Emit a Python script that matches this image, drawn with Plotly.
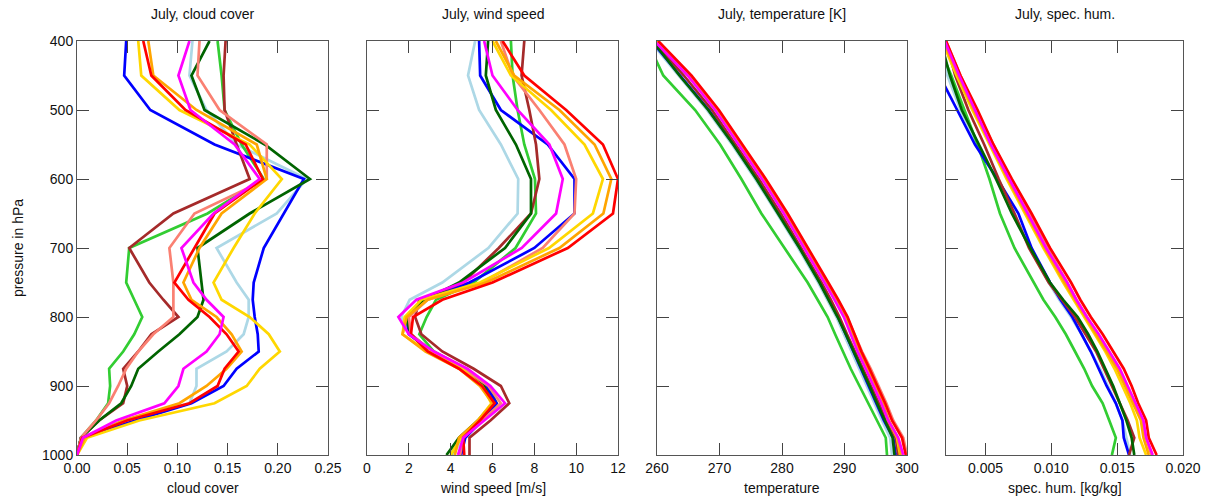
import plotly.graph_objects as go

# pressure levels (hPa)
levels = [400, 450, 500, 550, 600, 650, 700, 750, 775, 800, 825, 850, 875, 900, 925, 950, 975, 1000]

series_names = ["lightblue", "limegreen", "blue", "brown", "darkgreen", "salmon", "gold", "orange", "red", "magenta"]
series_colors = {"lightblue": "#add8e6", "salmon": "#fa8072", "brown": "#a52a2a", "limegreen": "#32cd32",
                 "darkgreen": "#006400", "blue": "#0000ff", "gold": "#ffd700", "orange": "#ffa500",
                 "red": "#ff0000", "magenta": "#ff00ff"}

# cloud cover
cloud = {
    "blue":      [0.049, 0.047, 0.073, 0.137, 0.226, 0.206, 0.186, 0.176, 0.175, 0.177, 0.180, 0.181, 0.159, 0.146, 0.114, 0.058, 0.004, 0.0],
    "red":       [0.066, 0.074, 0.108, 0.168, 0.185, 0.137, 0.117, 0.097, 0.111, 0.132, 0.149, 0.161, 0.147, 0.140, 0.112, 0.050, 0.005, 0.0],
    "orange":    [0.071, 0.076, 0.119, 0.179, 0.189, 0.144, 0.122, 0.106, 0.114, 0.139, 0.154, 0.164, 0.149, 0.129, 0.102, 0.046, 0.008, 0.0],
    "gold":      [0.061, 0.064, 0.102, 0.172, 0.204, 0.177, 0.156, 0.136, 0.144, 0.172, 0.191, 0.202, 0.182, 0.169, 0.137, 0.062, 0.010, 0.0],
    "limegreen": [0.140, 0.144, 0.147, 0.164, 0.186, 0.130, 0.052, 0.049, 0.057, 0.065, 0.057, 0.046, 0.032, 0.033, 0.031, 0.019, 0.004, 0.0],
    "darkgreen": [0.132, 0.114, 0.127, 0.187, 0.232, 0.172, 0.120, 0.124, 0.126, 0.120, 0.102, 0.081, 0.061, 0.054, 0.044, 0.022, 0.004, 0.0],
    "brown":     [0.148, 0.146, 0.147, 0.159, 0.172, 0.096, 0.052, 0.072, 0.086, 0.101, 0.074, 0.061, 0.046, 0.050, 0.046, 0.022, 0.004, 0.0],
    "magenta":   [0.112, 0.101, 0.113, 0.157, 0.182, 0.136, 0.104, 0.116, 0.129, 0.146, 0.142, 0.129, 0.106, 0.101, 0.087, 0.039, 0.006, 0.0],
    "salmon":    [0.122, 0.120, 0.142, 0.189, 0.189, 0.117, 0.092, 0.096, 0.096, 0.096, 0.076, 0.061, 0.049, 0.041, 0.032, 0.019, 0.004, 0.0],
    "lightblue": [0.115, 0.112, 0.129, 0.159, 0.229, 0.199, 0.139, 0.159, 0.171, 0.171, 0.166, 0.149, 0.119, 0.119, 0.112, 0.046, 0.005, 0.0],
}

# wind speed [m/s]
wind = {
    "lightblue": [5.17, 4.83, 5.36, 6.40, 7.23, 7.20, 5.80, 3.60, 2.04, 1.64, 2.10, 3.00, 4.50, 5.60, 6.10, 5.50, 4.60, 4.10],
    "blue":      [5.36, 5.41, 6.40, 8.64, 9.92, 9.92, 8.00, 4.90, 2.75, 1.90, 2.00, 3.10, 4.60, 5.70, 6.20, 5.50, 4.70, 4.50],
    "darkgreen": [5.79, 5.68, 6.16, 7.12, 7.84, 7.84, 6.60, 4.40, 2.75, 1.85, 2.10, 3.10, 4.60, 5.60, 6.00, 5.30, 4.40, 3.80],
    "limegreen": [6.88, 6.96, 7.20, 7.52, 8.03, 8.08, 7.10, 5.10, 3.30, 2.85, 2.50, 3.20, 4.70, 5.80, 6.20, 5.40, 4.50, 4.00],
    "brown":     [7.52, 7.39, 7.76, 8.08, 8.24, 7.84, 6.30, 4.60, 2.50, 2.30, 2.60, 3.60, 5.10, 6.40, 6.80, 5.90, 4.90, 4.90],
    "magenta":   [5.60, 6.00, 7.20, 8.72, 9.36, 9.04, 7.40, 4.60, 2.36, 1.50, 2.00, 3.20, 4.80, 5.90, 6.60, 5.60, 4.60, 4.35],
    "salmon":    [6.40, 6.96, 8.24, 9.44, 10.00, 9.92, 8.40, 5.50, 2.90, 2.00, 2.10, 3.10, 4.60, 5.80, 6.40, 5.50, 4.60, 4.45],
    "gold":      [6.00, 6.88, 8.80, 10.40, 11.28, 10.80, 8.70, 5.40, 2.60, 1.80, 1.70, 2.90, 4.50, 5.50, 5.95, 5.30, 4.50, 4.00],
    "orange":    [6.16, 7.04, 9.20, 10.88, 11.68, 11.30, 9.20, 5.70, 2.90, 1.90, 1.70, 2.80, 4.40, 5.40, 6.00, 5.30, 4.40, 4.20],
    "red":       [6.48, 7.52, 9.52, 11.28, 12.00, 11.76, 9.60, 6.00, 3.60, 2.20, 2.10, 2.90, 4.40, 5.50, 6.10, 5.40, 4.60, 4.65],
}

# temperature [K]
temp = {
    "red":       [260.2, 265.5, 269.9, 273.6, 277.4, 280.9, 284.2, 287.4, 289.0, 290.5, 291.6, 292.7, 294.0, 295.3, 296.5, 297.6, 299.2, 299.8],
    "magenta":   [259.6, 264.9, 269.3, 273.0, 276.8, 280.3, 283.6, 286.8, 288.4, 289.9, 291.0, 292.1, 293.4, 294.7, 295.9, 297.0, 298.6, 299.4],
    "orange":    [260.0, 265.3, 269.7, 273.4, 277.2, 280.7, 284.0, 287.2, 288.8, 290.3, 291.4, 292.5, 293.8, 295.0, 296.1, 297.1, 298.5, 299.0],
    "gold":      [259.8, 265.1, 269.5, 273.2, 277.0, 280.5, 283.8, 287.0, 288.6, 290.1, 291.2, 292.3, 293.6, 294.9, 296.0, 297.0, 298.4, 298.9],
    "salmon":    [259.9, 265.3, 269.7, 273.4, 277.2, 280.7, 284.0, 287.3, 288.9, 290.4, 291.6, 292.8, 294.2, 295.5, 296.7, 297.8, 299.4, 300.0],
    "brown":     [259.4, 264.3, 268.8, 272.6, 276.3, 279.8, 283.1, 286.3, 287.8, 289.2, 290.4, 291.7, 293.0, 294.3, 295.5, 296.7, 298.2, 298.6],
    "darkgreen": [259.3, 263.6, 268.2, 272.2, 275.9, 279.4, 282.8, 286.0, 287.5, 288.9, 290.2, 291.5, 292.8, 294.0, 295.2, 296.4, 297.7, 298.0],
    "blue":      [259.1, 263.7, 268.3, 272.3, 276.0, 279.5, 282.9, 286.1, 287.6, 289.0, 290.2, 291.4, 292.7, 293.9, 295.1, 296.3, 297.8, 298.2],
    "lightblue": [258.9, 263.4, 268.0, 272.0, 275.7, 279.2, 282.6, 285.8, 287.3, 288.7, 289.9, 291.1, 292.4, 293.6, 294.8, 296.0, 297.3, 297.6],
    "limegreen": [258.4, 261.0, 266.1, 270.1, 273.5, 276.7, 280.4, 284.1, 285.7, 287.3, 288.5, 289.7, 291.0, 292.4, 293.8, 295.1, 296.6, 296.8],
}

# specific humidity [kg/kg]
hum = {
    "red":       [0.0020, 0.0031, 0.0044, 0.0056, 0.0070, 0.0085, 0.0099, 0.0115, 0.0122, 0.0130, 0.0139, 0.0147, 0.0155, 0.0161, 0.0166, 0.0172, 0.0174, 0.0180],
    "magenta":   [0.0019, 0.0030, 0.0042, 0.0054, 0.0068, 0.0082, 0.0096, 0.0112, 0.0119, 0.0127, 0.0136, 0.0144, 0.0152, 0.0158, 0.0164, 0.0170, 0.0172, 0.0177],
    "salmon":    [0.0020, 0.0031, 0.0043, 0.0056, 0.0069, 0.0083, 0.0097, 0.0112, 0.0119, 0.0127, 0.0135, 0.0143, 0.0151, 0.0157, 0.0163, 0.0169, 0.0172, 0.0176],
    "orange":    [0.0018, 0.0029, 0.0041, 0.0054, 0.0067, 0.0081, 0.0095, 0.0110, 0.0118, 0.0126, 0.0134, 0.0142, 0.0150, 0.0156, 0.0162, 0.0168, 0.0170, 0.0174],
    "gold":      [0.0017, 0.0028, 0.0040, 0.0053, 0.0066, 0.0080, 0.0094, 0.0109, 0.0117, 0.0125, 0.0133, 0.0141, 0.0148, 0.0154, 0.0160, 0.0165, 0.0167, 0.0172],
    "brown":     [0.0020, 0.0027, 0.0037, 0.0049, 0.0060, 0.0072, 0.0083, 0.0098, 0.0108, 0.0118, 0.0126, 0.0134, 0.0140, 0.0146, 0.0152, 0.0158, 0.0163, 0.0159],
    "darkgreen": [0.0016, 0.0023, 0.0032, 0.0045, 0.0058, 0.0070, 0.0084, 0.0099, 0.0109, 0.0120, 0.0128, 0.0135, 0.0141, 0.0147, 0.0152, 0.0157, 0.0161, 0.0163],
    "blue":      [0.0012, 0.0015, 0.00285, 0.0042, 0.0059, 0.0075, 0.0085, 0.0099, 0.0107, 0.0116, 0.0123, 0.0130, 0.0136, 0.0142, 0.0149, 0.0154, 0.0155, 0.0159],
    "lightblue": [0.0016, 0.0021, 0.0031, 0.0044, 0.0058, 0.0072, 0.0084, 0.0098, 0.0106, 0.0115, 0.0123, 0.0130, 0.0137, 0.0143, 0.0149, 0.0154, 0.0157, 0.0160],
    "limegreen": [0.0013, 0.0024, 0.0034, 0.0044, 0.0053, 0.0061, 0.0072, 0.0087, 0.0094, 0.0103, 0.0111, 0.0118, 0.0125, 0.0131, 0.0139, 0.0144, 0.0149, 0.0146],
}

panel_titles = ["July, cloud cover", "July, wind speed", "July, temperature [K]", "July, spec. hum."]
x_titles = ["cloud cover", "wind speed [m/s]", "temperature", "spec. hum. [kg/kg]"]
x_ranges = [[0, 0.25], [0, 12], [260, 300], [0.002, 0.020]]
x_tickvals = [[0, 0.05, 0.10, 0.15, 0.20, 0.25], [0, 2, 4, 6, 8, 10, 12], [260, 270, 280, 290, 300],
              [0.005, 0.010, 0.015, 0.020]]
x_formats = [".2f", "d", "d", ".3f"]
y_ticks = [400, 500, 600, 700, 800, 900, 1000]

W, H = 1211, 499
px_left = [77, 367, 657, 946]
px_right = [328, 618, 907, 1183]
y_top, y_bot = 41, 455

fig = go.Figure()
datasets = [cloud, wind, temp, hum]
for i, data in enumerate(datasets):
    xa = "x" if i == 0 else f"x{i+1}"
    ya = "y" if i == 0 else f"y{i+1}"
    for name in series_names:
        fig.add_trace(go.Scatter(x=data[name], y=levels, mode="lines", xaxis=xa, yaxis=ya,
                                 line=dict(color=series_colors[name], width=2.7), showlegend=False))

FONT = "Liberation Sans, Arial"
axis_common = dict(showline=True, linecolor="#555555", linewidth=1, mirror="ticks", ticks="inside",
                   ticklen=12, tickcolor="#444444", tickwidth=1, showgrid=False, zeroline=False,
                   automargin=False,
                   tickfont=dict(family=FONT, size=14, color="#111111"))
layout = dict(width=W, height=H, margin=dict(l=0, r=0, t=0, b=0, pad=0), plot_bgcolor="white",
              paper_bgcolor="white", showlegend=False)
annotations = []
for i in range(4):
    xk = "xaxis" if i == 0 else f"xaxis{i+1}"
    yk = "yaxis" if i == 0 else f"yaxis{i+1}"
    d0, d1 = px_left[i] / W, px_right[i] / W
    layout[xk] = dict(axis_common, domain=[d0, d1], range=x_ranges[i], tickvals=x_tickvals[i],
                      tickformat=x_formats[i], anchor="y" if i == 0 else f"y{i+1}")
    layout[yk] = dict(axis_common, domain=[1 - y_bot / H, 1 - y_top / H], range=[1000, 400],
                      tickvals=y_ticks, showticklabels=(i == 0), anchor="x" if i == 0 else f"x{i+1}")
    xc = (d0 + d1) / 2
    annotations.append(dict(text=panel_titles[i], x=xc, y=1 - 14 / H, xref="paper", yref="paper",
                            xanchor="center", yanchor="middle",
                            showarrow=False, font=dict(family=FONT, size=14, color="#111111")))
    annotations.append(dict(text=x_titles[i], x=xc, y=1 - 488 / H, xref="paper", yref="paper",
                            xanchor="center", yanchor="middle",
                            showarrow=False, font=dict(family=FONT, size=14, color="#111111")))
annotations.append(dict(text="pressure in hPa", x=18 / W, y=1 - 248 / H, xref="paper", yref="paper",
                        xanchor="center", yanchor="middle", textangle=-90, showarrow=False,
                        font=dict(family=FONT, size=14, color="#111111")))
layout["annotations"] = annotations
fig.update_layout(**layout)
fig.write_html("out.html")
